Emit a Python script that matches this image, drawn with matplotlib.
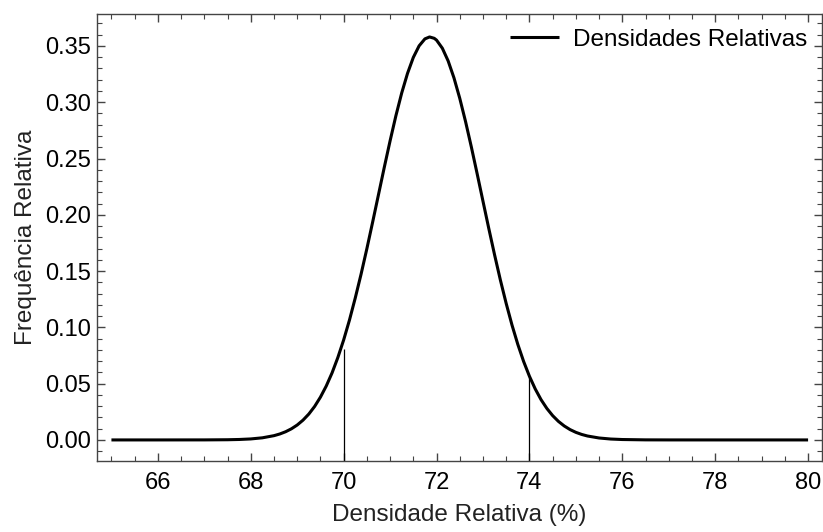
import matplotlib
matplotlib.use("Agg")
import matplotlib.pyplot as plt
from matplotlib.ticker import MultipleLocator

plt.rcParams['font.family'] = ['Liberation Sans', 'DejaVu Sans']

# relative density (%) vs relative frequency
dens_x = [65, 66, 67, 67.5, 67.75, 68, 68.25, 68.5, 68.625, 68.75, 68.875,
          69, 69.125, 69.25, 69.375, 69.5, 69.625, 69.75, 69.875,
          70, 70.125, 70.25, 70.375, 70.5, 70.625, 70.75, 70.875,
          71, 71.125, 71.25, 71.375, 71.5, 71.625, 71.75, 71.85, 71.95,
          72, 72.125, 72.25, 72.375, 72.5, 72.625, 72.75, 72.875,
          73, 73.125, 73.25, 73.375, 73.5, 73.625, 73.75, 73.875,
          74, 74.125, 74.25, 74.375, 74.5, 74.625, 74.75, 74.875,
          75, 75.125, 75.25, 75.5, 75.75, 76, 76.5, 77, 78, 79, 80]
freq_y = [0.0, 0.0, 0.00003, 0.00017, 0.0004, 0.00088, 0.00188, 0.00379, 0.00528, 0.00727, 0.00988,
          0.01325, 0.01758, 0.0230, 0.02974, 0.0380, 0.04785, 0.0595, 0.07319,
          0.0888, 0.10645, 0.1261, 0.14723, 0.1699, 0.19365, 0.2179, 0.24218,
          0.2657, 0.2880, 0.3082, 0.3256, 0.3398, 0.3501, 0.3563, 0.3580, 0.3568,
          0.3552, 0.3480, 0.3367, 0.3217, 0.3035, 0.2828, 0.2602, 0.23639,
          0.2121, 0.18789, 0.1644, 0.14200, 0.1212, 0.10204, 0.0849, 0.06973,
          0.0566, 0.04531, 0.0358, 0.02800, 0.0216, 0.01645, 0.0124, 0.00919,
          0.00674, 0.00488, 0.00349, 0.00172, 0.0008, 0.00036, 0.00006, 0.00001, 0.0, 0.0, 0.0]

# interval limits marked with thin vertical lines
limit_x = [70, 74]
limit_top = [0.081, 0.056]

fig = plt.figure(figsize=(8.23, 5.32), dpi=100)
ax = fig.add_axes([0.1179, 0.1335, 0.8809, 0.8402])

ax.plot(dens_x, freq_y, color='black', lw=2.2, label='Densidades Relativas',
        solid_capstyle='butt', solid_joinstyle='round')
ax.vlines(limit_x, -0.0187, limit_top, color='black', lw=0.9)

ax.set_xlim(64.69, 80.3)
ax.set_ylim(-0.0187, 0.3784)
ax.xaxis.set_major_locator(MultipleLocator(2))
ax.xaxis.set_minor_locator(MultipleLocator(0.5))
ax.yaxis.set_major_locator(MultipleLocator(0.05))
ax.yaxis.set_minor_locator(MultipleLocator(0.01))
ax.yaxis.set_major_formatter(lambda v, p: f'{v:.2f}')

spine_col = '#444444'
for s in ax.spines.values():
    s.set_color(spine_col)
    s.set_linewidth(1.0)
ax.tick_params(which='both', direction='in', top=True, right=True,
               color=spine_col, labelsize=17, labelcolor='black')
ax.tick_params(which='major', length=6, width=1.0)
ax.tick_params(which='minor', length=3.5, width=0.8)
ax.tick_params(axis='x', which='major', pad=8)
ax.tick_params(axis='y', which='major', pad=4)

ax.set_xlabel('Densidade Relativa (%)', fontsize=17.5, color='#222222', labelpad=7)
ax.set_ylabel('Frequência Relativa', fontsize=17.5, color='#222222', labelpad=6)

ax.legend(loc='upper right', frameon=False, fontsize=17.5, handlelength=2.0,
          borderaxespad=0.2, handletextpad=0.6)

fig.savefig('out.png', dpi=100)
